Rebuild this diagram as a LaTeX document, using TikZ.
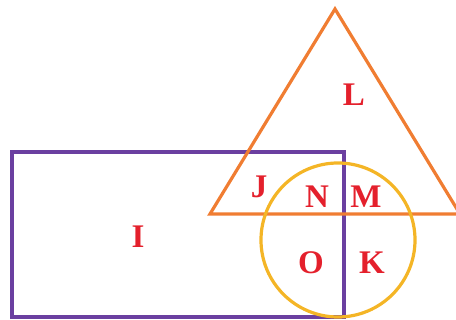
\documentclass[tikz,border=0pt]{standalone}
\usepackage{fontspec}
\setmainfont{Liberation Serif}
\usepackage{tikz}
\definecolor{boxpurple}{HTML}{6B3FA0}
\definecolor{triorange}{HTML}{F07D32}
\definecolor{ringyellow}{HTML}{F4B526}
\definecolor{labelred}{HTML}{E4202C}

\begin{document}
\begin{tikzpicture}[x=1pt, y=-1pt, line width=3.2pt,
    region/.style={text=labelred, font=\fontsize{33}{33}\selectfont\bfseries}]
          \useasboundingbox (0,0) rectangle (456,320);
          \draw[boxpurple] (12,152) rectangle (344,317);
          \draw[triorange, line join=miter] (335,9) -- (210,214) -- (460,214) -- cycle;
          \draw[ringyellow] (338,240) circle (77);
          \node[region] (l) at (354,95) {L};
          \node[region] (j) at (259,187) {J};
          \node[region] (n) at (317,197) {N};
          \node[region] (m) at (366,197) {M};
          \node[region] (i) at (138,237) {I};
          \node[region] (o) at (311,263) {O};
          \node[region] (k) at (372,263) {K};
        \end{tikzpicture}
\end{document}
